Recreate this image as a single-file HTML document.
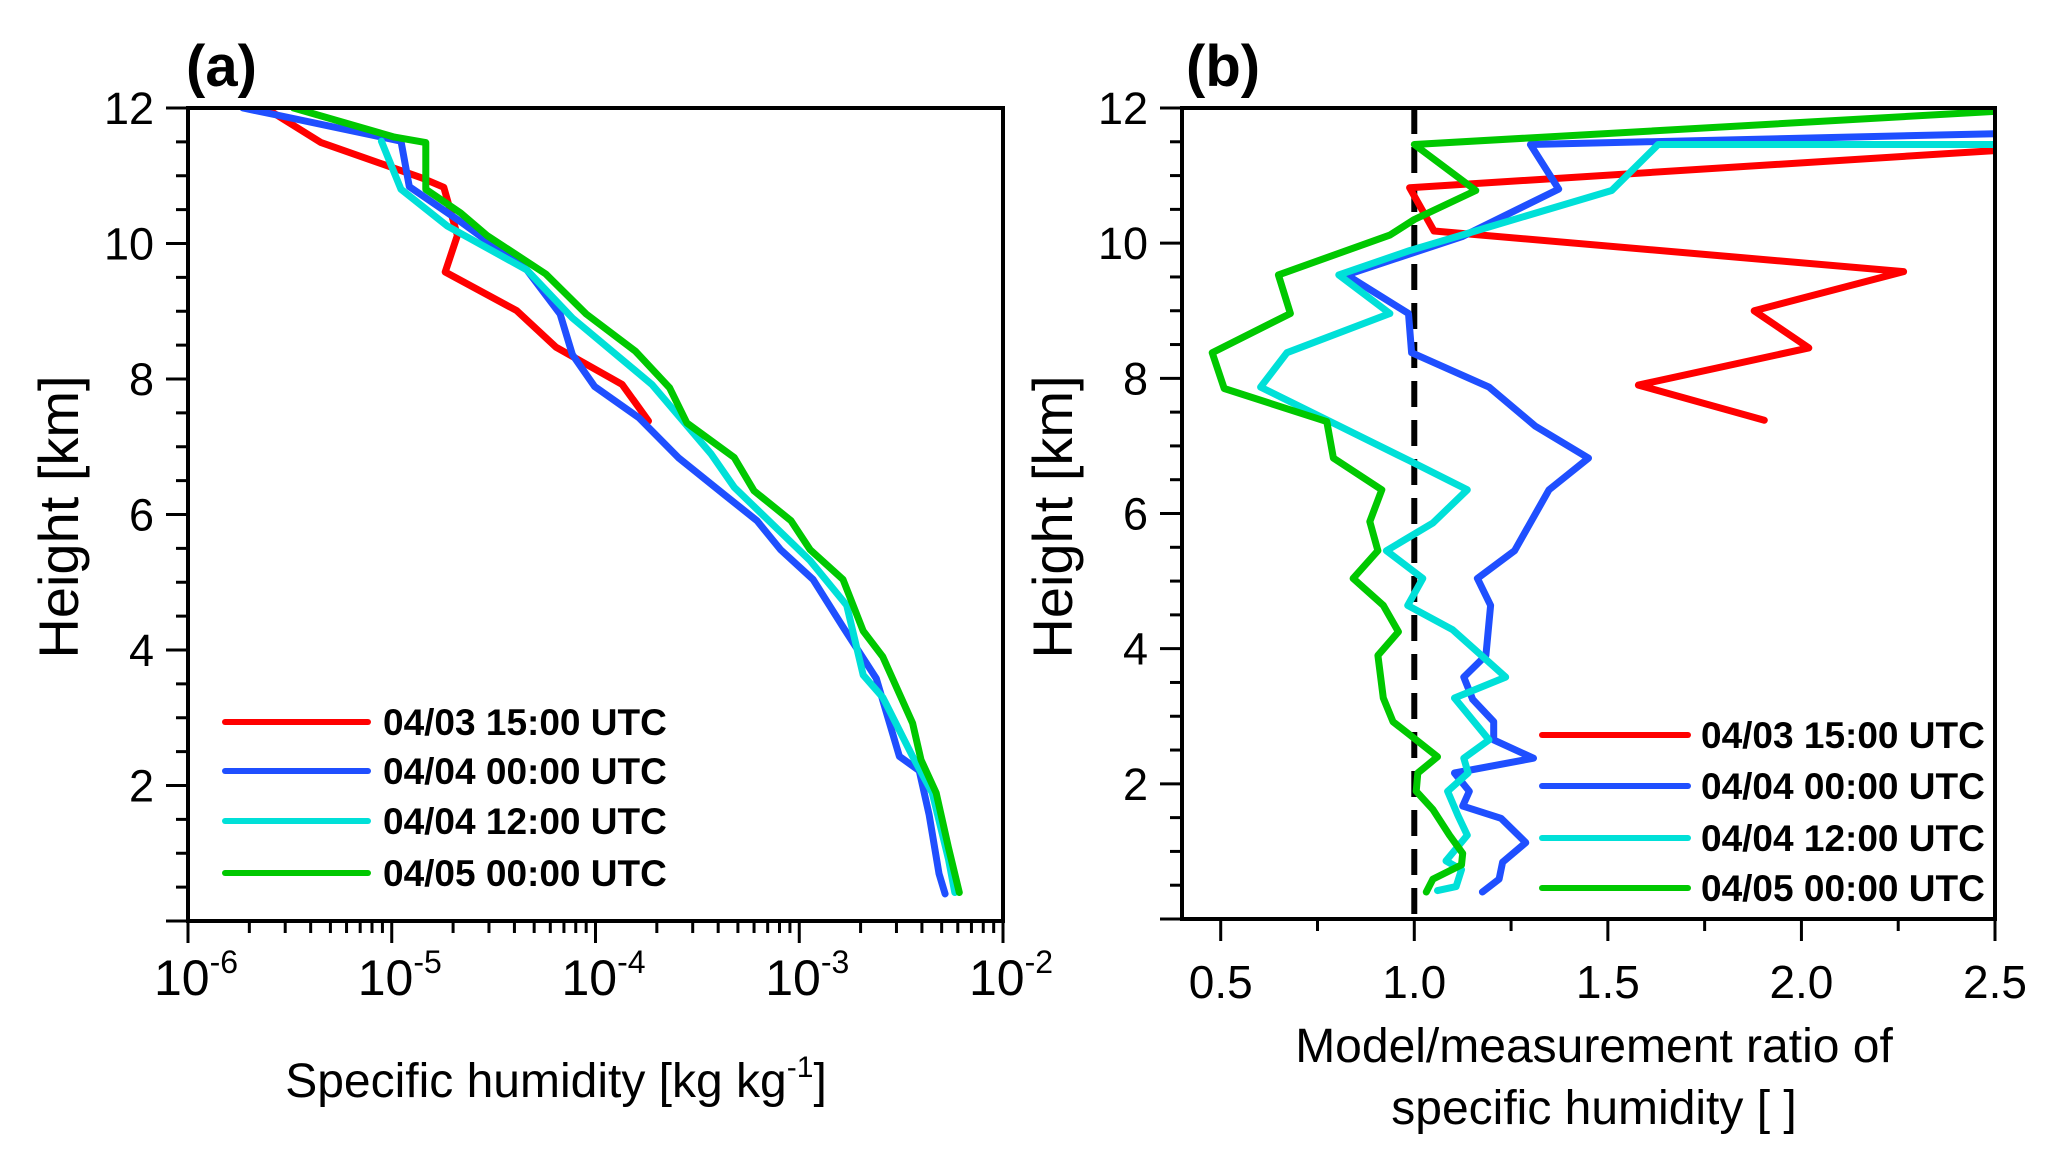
<!DOCTYPE html>
<html><head><meta charset="utf-8">
<style>
html,body{margin:0;padding:0;background:#fff;}
svg{display:block;font-family:"Liberation Sans",sans-serif;}
</style></head>
<body>
<svg id="chart" width="2067" height="1158" viewBox="0 0 2067 1158" xmlns="http://www.w3.org/2000/svg">
<defs>
<clipPath id="clipA"><rect x="188" y="108" width="815" height="813"/></clipPath>
<clipPath id="clipB"><rect x="1182" y="108" width="813" height="811"/></clipPath>
</defs>
<g id="panelA"></g>
<g id="panelB"></g>
</svg>
<script>
// ---- Panel (a) data: specific humidity [kg/kg] vs height [km]
const seriesNames = ["04/03 15:00 UTC","04/04 00:00 UTC","04/04 12:00 UTC","04/05 00:00 UTC"];
const seriesColors = ["#ff0000","#1f4fff","#00e0d8","#00c800"];
const aRedH = [12.0,11.49,10.97,10.83,10.12,9.58,9.01,8.47,7.92,7.38];
const aRedQ = [2.4e-6,4.5e-6,1.4e-5,1.8e-5,2.1e-5,1.83e-5,4.1e-5,6.4e-5,1.35e-4,1.82e-4];
const aBlueH = [12.0,11.89,11.51,10.84,10.32,9.61,8.96,8.36,7.89,7.43,6.84,6.29,5.91,5.48,5.04,4.34,3.58,2.43,2.22,1.57,0.70,0.40];
const aBlueQ = [1.86e-6,2.8e-6,1.11e-5,1.22e-5,2.18e-5,4.6e-5,6.7e-5,7.7e-5,9.9e-5,1.63e-4,2.55e-4,4.3e-4,6.2e-4,8.1e-4,1.17e-3,1.64e-3,2.39e-3,3.1e-3,3.88e-3,4.34e-3,4.85e-3,5.2e-3];
const aCyanH = [11.51,10.8,10.26,9.61,8.9,7.92,6.89,6.4,5.32,4.66,3.63,3.30,2.43,1.89,0.91,0.42];
const aCyanQ = [8.9e-6,1.11e-5,1.87e-5,4.6e-5,7.7e-5,1.89e-4,3.7e-4,4.8e-4,1.13e-3,1.71e-3,2.06e-3,2.57e-3,3.6e-3,4.5e-3,5.4e-3,5.8e-3];
const aGreenH = [12.0,11.57,11.49,10.8,10.45,10.12,9.55,8.96,8.41,7.87,7.35,6.84,6.35,5.91,5.48,5.04,4.28,3.90,2.92,2.38,1.89,1.08,0.42];
const aGreenQ = [3.3e-6,1.03e-5,1.47e-5,1.47e-5,2.18e-5,2.93e-5,5.7e-5,9.0e-5,1.57e-4,2.31e-4,2.81e-4,4.8e-4,6.0e-4,9.1e-4,1.13e-3,1.64e-3,2.06e-3,2.57e-3,3.6e-3,3.96e-3,4.7e-3,5.4e-3,6.1e-3];
// ---- Panel (b) data: model/measurement ratio vs height [km]
const bRedH = [11.37,10.82,10.18,9.58,9.0,8.45,7.9,7.38];
const bRedR = [2.5,0.988,1.051,2.264,1.878,2.019,1.579,1.904];
const bBlueH = [11.62,11.46,10.8,10.1,9.53,8.96,8.38,7.87,7.29,6.82,6.35,5.45,5.04,4.64,3.9,3.58,3.25,2.92,2.65,2.38,2.16,1.89,1.67,1.49,1.13,0.84,0.59,0.40];
const bBlueR = [2.5,1.30,1.373,1.125,0.825,0.985,0.993,1.193,1.313,1.450,1.348,1.259,1.163,1.197,1.185,1.128,1.151,1.205,1.205,1.308,1.104,1.142,1.125,1.224,1.288,1.228,1.219,1.176];
const bCyanH = [11.46,11.46,10.78,9.89,9.53,8.96,8.38,7.87,6.78,6.35,5.86,5.45,5.04,4.64,4.28,3.58,3.27,2.65,2.38,2.16,1.89,1.53,1.24,0.86,0.73,0.48,0.42];
const bCyanR = [2.5,1.630,1.510,0.988,0.805,0.937,0.671,0.603,0.988,1.137,1.048,0.928,1.022,0.983,1.099,1.236,1.104,1.193,1.128,1.139,1.086,1.113,1.137,1.082,1.122,1.108,1.060];
const bGreenH = [11.95,11.46,10.78,10.35,10.12,9.53,8.96,8.38,7.85,7.36,6.82,6.35,5.88,5.45,5.04,4.64,4.25,3.9,3.27,2.92,2.65,2.40,2.16,1.89,1.62,1.24,0.97,0.80,0.59,0.40];
const bGreenR = [2.5,1.0,1.159,1.0,0.937,0.649,0.680,0.478,0.509,0.774,0.791,0.916,0.885,0.906,0.842,0.920,0.959,0.906,0.920,0.945,1.005,1.060,1.009,1.005,1.048,1.091,1.125,1.122,1.048,1.031];
const yTicks = [2,4,6,8,10,12];
const aXExp = [-6,-5,-4,-3,-2];
const bXTicks = ["0.5","1.0","1.5","2.0","2.5"];
const refRatio = 1.0;

const NS="http://www.w3.org/2000/svg";
function mk(tag,attrs,parent){const e=document.createElementNS(NS,tag);for(const k in attrs)e.setAttribute(k,attrs[k]);parent.appendChild(e);return e;}

const A={x0:188,x1:1003,y0:921,y1:108};
const B={x0:1182,x1:1995,y0:919,y1:108};
const yA=h=>A.y0-(h/12)*(A.y0-A.y1);
const yB=h=>B.y0-(h/12)*(B.y0-B.y1);
const xA=q=>A.x0+(Math.log10(q)+6)/4*(A.x1-A.x0);
const xB=r=>B.x0+(r-0.4)/2.1*(B.x1-B.x0);

function drawLine(g,xs,ys,fx,fy,color,clip,name){
  const d=xs.map((v,i)=>(i?'L':'M')+fx(v).toFixed(1)+','+fy(ys[i]).toFixed(1)).join(' ');
  const p=mk('path',{d:d,fill:'none',stroke:color,'stroke-width':7,'stroke-linejoin':'round','stroke-linecap':'round','clip-path':clip},g);
  
  
}

function yAxis(g,P,fy,titleX){
  for(let h=0;h<=12.001;h+=0.5){
    const major=Math.abs(h%2)<1e-6;
    mk('line',{x1:P.x0-(major?22:12),x2:P.x0,y1:fy(h),y2:fy(h),stroke:'#000','stroke-width':3},g);
  }
  yTicks.forEach(t=>{
    const tx=mk('text',{x:P.x0-34,y:fy(t)+16,'text-anchor':'end','font-size':45},g);
    tx.textContent=t;
    
    
  });
  const tt=mk('text',{x:titleX,y:517,'text-anchor':'middle','font-size':56,transform:'rotate(-90 '+titleX+' 517)'},g);
  tt.textContent='Height [km]';
  
  
}

function legend(g,lx0,lx1,tx,rows){
  rows.forEach((ry,i)=>{
    const l=mk('line',{x1:lx0,x2:lx1,y1:ry,y2:ry,stroke:seriesColors[i],'stroke-width':6,'stroke-linecap':'round'},g);
    
    
    const t=mk('text',{x:tx,y:ry+13,'font-size':37,'font-weight':'bold'},g);
    t.textContent=seriesNames[i];
    
    
  });
}

// ---------- Panel A
const gA=document.getElementById('panelA');
drawLine(gA,aRedQ,aRedH,xA,yA,seriesColors[0],'url(#clipA)','line-0403-1500');
drawLine(gA,aBlueQ,aBlueH,xA,yA,seriesColors[1],'url(#clipA)','line-0404-0000');
drawLine(gA,aCyanQ,aCyanH,xA,yA,seriesColors[2],'url(#clipA)','line-0404-1200');
drawLine(gA,aGreenQ,aGreenH,xA,yA,seriesColors[3],'url(#clipA)','line-0405-0000');
mk('rect',{x:A.x0,y:A.y1,width:A.x1-A.x0,height:A.y0-A.y1,fill:'none',stroke:'#000','stroke-width':4},gA);
yAxis(gA,A,yA,78);
for(let e=-6;e<-2;e++){for(let m=2;m<10;m++){const x=xA(m*Math.pow(10,e));mk('line',{x1:x,x2:x,y1:A.y0,y2:A.y0+12,stroke:'#000','stroke-width':3},gA);}}
aXExp.forEach(e=>{
  const x=xA(Math.pow(10,e));
  mk('line',{x1:x,x2:x,y1:A.y0,y2:A.y0+22,stroke:'#000','stroke-width':3},gA);
  const t=mk('text',{x:x+8,y:995,'text-anchor':'middle','font-size':50},gA);
  
  
  const b=mk('tspan',{},t);b.textContent='10';
  const s=mk('tspan',{dy:-22,'font-size':32},t);s.textContent=String(e);
});
const xtA=mk('text',{x:556,y:1097,'text-anchor':'middle','font-size':48},gA);


xtA.appendChild(document.createTextNode('Specific humidity  [kg kg'));
const supA=mk('tspan',{dy:-20,'font-size':30},xtA);supA.textContent='-1';
const clA=mk('tspan',{dy:20},xtA);clA.textContent=']';
legend(gA,225,368,383,[722,771,821,873]);
const labA=mk('text',{x:186,y:86,'font-size':58,'font-weight':'bold'},gA);
labA.textContent='(a)';



// ---------- Panel B
const gB=document.getElementById('panelB');
const ref=mk('line',{x1:xB(refRatio),x2:xB(refRatio),y1:B.y1,y2:B.y0,stroke:'#000','stroke-width':6,'stroke-dasharray':'26 13'},gB);


drawLine(gB,bRedR,bRedH,xB,yB,seriesColors[0],'url(#clipB)','ratio-line-0403-1500');
drawLine(gB,bBlueR,bBlueH,xB,yB,seriesColors[1],'url(#clipB)','ratio-line-0404-0000');
drawLine(gB,bCyanR,bCyanH,xB,yB,seriesColors[2],'url(#clipB)','ratio-line-0404-1200');
drawLine(gB,bGreenR,bGreenH,xB,yB,seriesColors[3],'url(#clipB)','ratio-line-0405-0000');
mk('rect',{x:B.x0,y:B.y1,width:B.x1-B.x0,height:B.y0-B.y1,fill:'none',stroke:'#000','stroke-width':4},gB);
yAxis(gB,B,yB,1072);
for(let v=0.5;v<=2.5001;v+=0.25){
  const major=Math.abs((v*2)%1)<1e-6;
  const x=xB(v);
  mk('line',{x1:x,x2:x,y1:B.y0,y2:B.y0+(major?22:12),stroke:'#000','stroke-width':3},gB);
}
bXTicks.forEach(s=>{
  const t=mk('text',{x:xB(parseFloat(s)),y:998,'text-anchor':'middle','font-size':46},gB);
  t.textContent=s;
  
  
});
const xtB1=mk('text',{x:1594,y:1062,'text-anchor':'middle','font-size':48},gB);
xtB1.textContent='Model/measurement ratio of';


const xtB2=mk('text',{x:1594,y:1124,'text-anchor':'middle','font-size':48},gB);
xtB2.textContent='specific humidity [ ]';


legend(gB,1542,1688,1701,[735,786,838,888]);
const labB=mk('text',{x:1186,y:86,'font-size':58,'font-weight':'bold'},gB);
labB.textContent='(b)';


</script>
</body></html>
